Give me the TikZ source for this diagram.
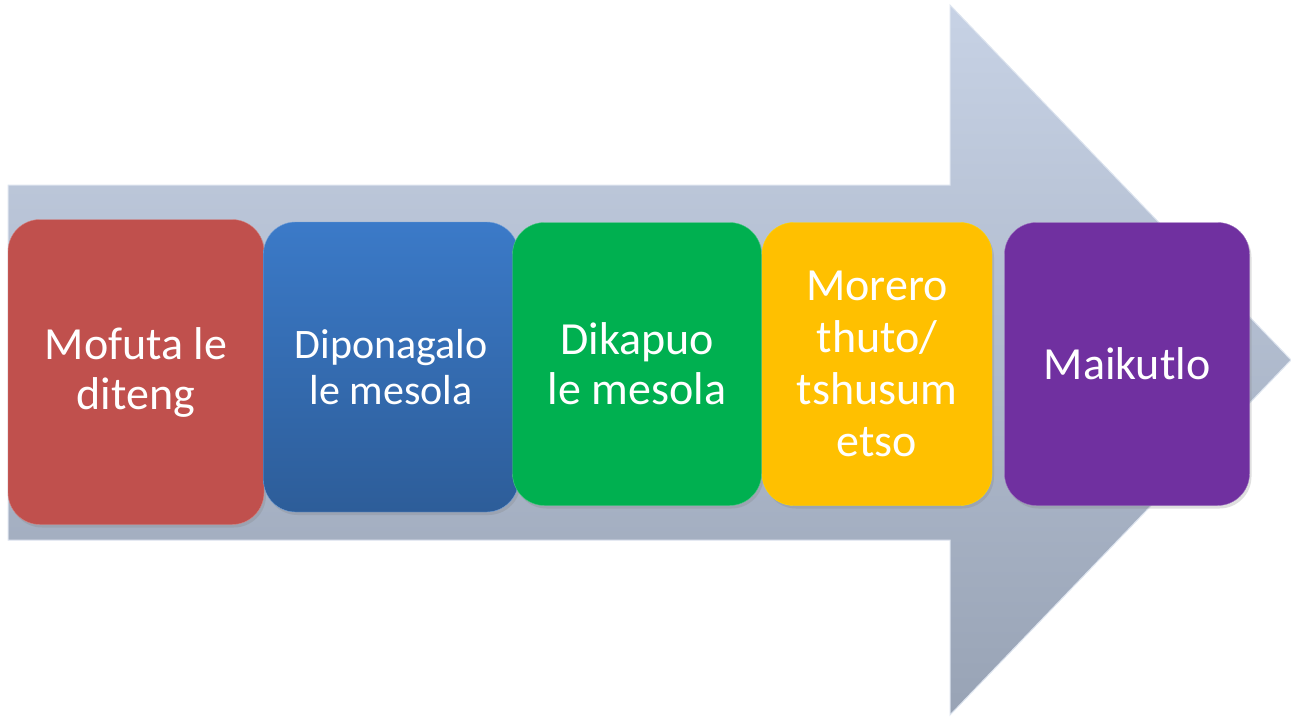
\documentclass[tikz,border=0pt]{standalone}
\usepackage{fontspec}
\setmainfont{Carlito}
\usepackage{tikz}
\usetikzlibrary{shadows}
\definecolor{flecha1}{HTML}{C7D2E5}
\definecolor{flecha2}{HTML}{98A3B5}
\definecolor{rojo}{HTML}{C0504D}
\definecolor{azul}{HTML}{3B7AC8}
\definecolor{azulb}{HTML}{2D5D99}
\definecolor{verde}{HTML}{00B050}
\definecolor{amarillo}{HTML}{FFC000}
\definecolor{morado}{HTML}{7030A0}
\tikzstyle{paso} = [rectangle, rounded corners=32pt, inner sep=0pt, align=center, text=white, font=\fontsize{46}{50}\selectfont, drop shadow={opacity=0.25, shadow xshift=2pt, shadow yshift=-3pt}]
\tikzstyle{flecha} = [top color=flecha1, bottom color=flecha2, draw=flecha1!60!white, line width=1pt]

\begin{document}
\begin{tikzpicture}[x=1pt, y=-1pt]
		\useasboundingbox (0,0) rectangle (1291,718);
		\draw[flecha] (8,185) -- (950,185) -- (950,5) -- (1291,360) -- (950,715) -- (950,540) -- (8,540) -- cycle;
		\node[paso, fill=rojo, draw=rojo!70!white, minimum width=256pt, minimum height=305pt](mofuta) at (136,372) {Mofuta le\\diteng};
		\node[paso, top color=azul, bottom color=azulb, draw=azul!70!white, minimum width=255pt, minimum height=290pt, font=\fontsize{42}{46}\selectfont](diponagalo) at (391,367) {Diponagalo\\le mesola};
		\node[paso, fill=verde, draw=verde!70!white, minimum width=249pt, minimum height=283pt](dikapuo) at (637,364) {Dikapuo\\le mesola};
		\node[paso, fill=amarillo, draw=amarillo!60!yellow, minimum width=230pt, minimum height=283pt, font=\fontsize{46}{52}\selectfont](morero) at (877,364) {Morero\\thuto/\\tshusum\\etso};
		\node[paso, fill=morado, draw=morado!70!white, minimum width=245pt, minimum height=283pt](maikutlo) at (1127,364) {Maikutlo};
	\end{tikzpicture}
\end{document}
